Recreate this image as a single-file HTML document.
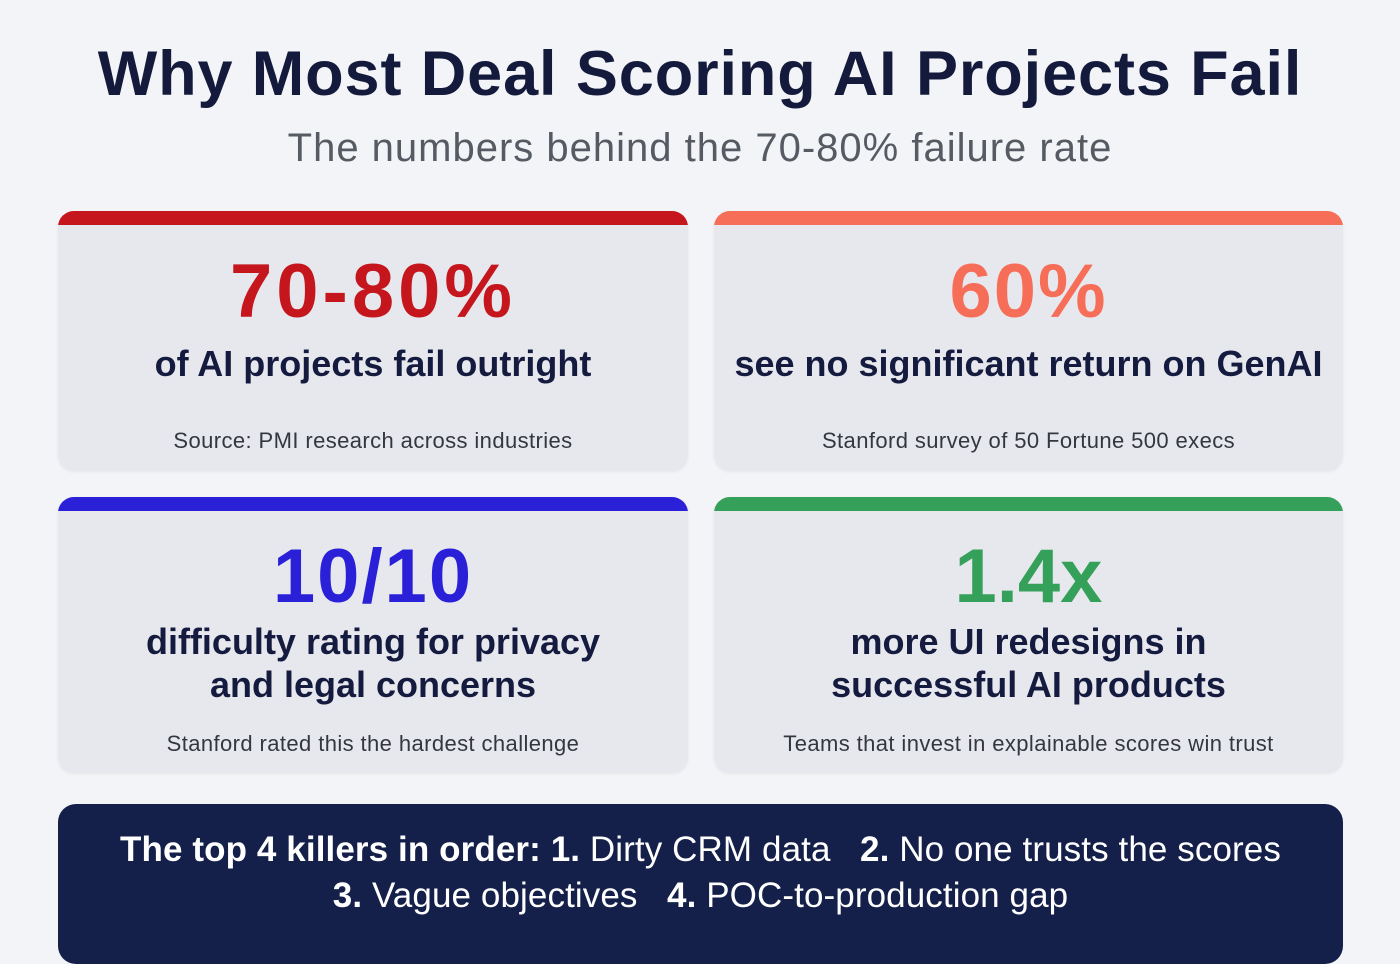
<!DOCTYPE html>
<html><head><meta charset="utf-8"><style>
*{margin:0;padding:0;box-sizing:border-box}
body{width:1400px;height:939px;overflow:hidden;background:#f3f4f7;font-family:"Liberation Sans",sans-serif;position:relative;color:#151b3f}
.abs{position:absolute;left:0;width:100%;text-align:center;white-space:nowrap}
h1{position:absolute;left:0;width:1400px;top:38px;text-align:center;font-size:63px;font-weight:700;color:#131a3c;letter-spacing:0.9px}
.sub{top:126px;font-size:40px;color:#555a63;letter-spacing:1px}
.card{position:absolute;background:#e7e8ee;border-radius:16px;overflow:hidden;box-shadow:0 1px 3px rgba(0,0,0,0.06)}
.bar{position:absolute;left:0;top:0;width:100%;height:14px}
.num{font-size:76px;font-weight:700;letter-spacing:2px}
.line{font-size:36px;font-weight:700;color:#151b3f}
.src{font-size:22px;color:#33373f;letter-spacing:0.4px}
.banner{position:absolute;left:58px;top:804px;width:1285px;height:160px;background:#14204a;border-radius:18px;color:#fff}
.banner .abs{font-size:35px;letter-spacing:0.1px}
</style></head><body>
<h1>Why Most Deal Scoring AI Projects Fail</h1>
<div class="abs sub">The numbers behind the 70-80% failure rate</div>

<div class="card" style="left:58px;top:211px;width:630px;height:260px">
<div class="bar" style="background:#c4161c"></div>
<div class="abs num" style="top:37px;color:#c4161c;letter-spacing:4px">70-80%</div>
<div class="abs line" style="top:132px">of AI projects fail outright</div>
<div class="abs src" style="top:217px">Source: PMI research across industries</div>
</div>

<div class="card" style="left:714px;top:211px;width:629px;height:260px">
<div class="bar" style="background:#f76e58"></div>
<div class="abs num" style="top:37px;color:#f76e58">60%</div>
<div class="abs line" style="top:132px">see no significant return on GenAI</div>
<div class="abs src" style="top:217px">Stanford survey of 50 Fortune 500 execs</div>
</div>

<div class="card" style="left:58px;top:497px;width:630px;height:276px">
<div class="bar" style="background:#2a20d8"></div>
<div class="abs num" style="top:36px;color:#2a20d8">10/10</div>
<div class="abs line" style="top:124px">difficulty rating for privacy</div>
<div class="abs line" style="top:167px">and legal concerns</div>
<div class="abs src" style="top:234px">Stanford rated this the hardest challenge</div>
</div>

<div class="card" style="left:714px;top:497px;width:629px;height:276px">
<div class="bar" style="background:#34a05a"></div>
<div class="abs num" style="top:36px;color:#34a05a;letter-spacing:0">1.4x</div>
<div class="abs line" style="top:124px">more UI redesigns in</div>
<div class="abs line" style="top:167px">successful AI products</div>
<div class="abs src" style="top:234px">Teams that invest in explainable scores win trust</div>
</div>

<div class="banner">
<div class="abs" style="top:26px"><b>The top 4 killers in order: 1.</b> Dirty CRM data &nbsp;&nbsp;<b>2.</b> No one trusts the scores</div>
<div class="abs" style="top:72px"><b>3.</b> Vague objectives &nbsp;&nbsp;<b>4.</b> POC-to-production gap</div>
</div>
</body></html>
